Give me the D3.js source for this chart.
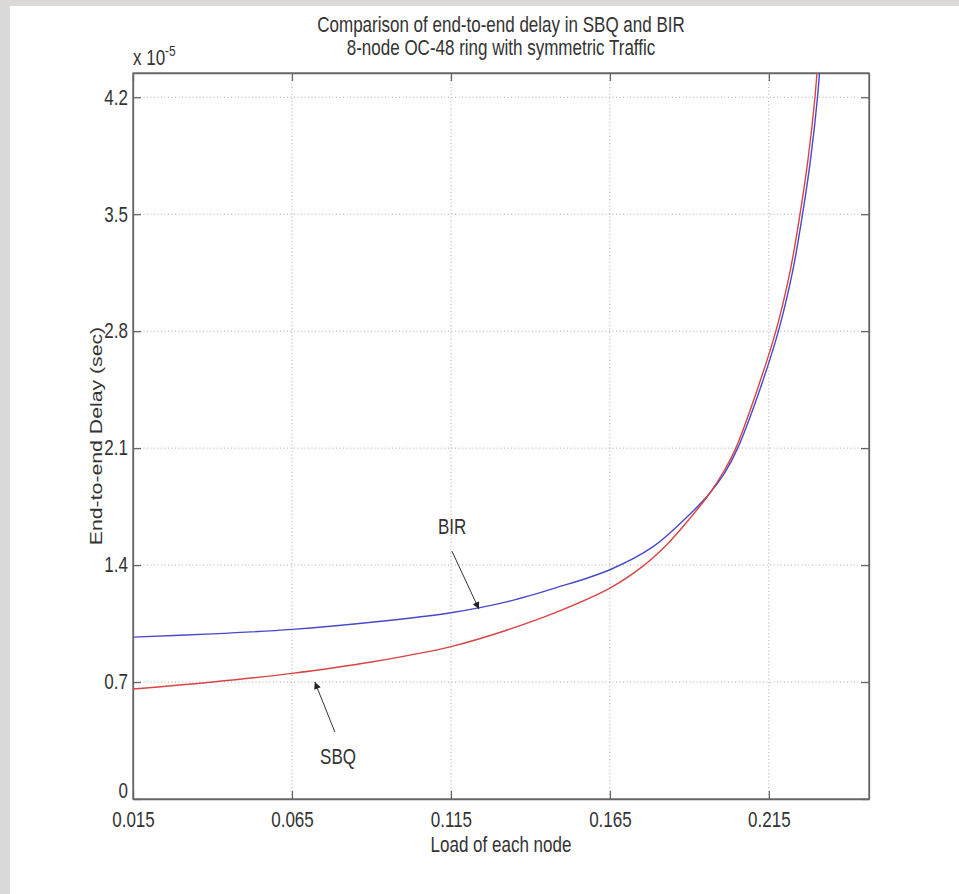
<html>
<head>
<script src="https://d3js.org/d3.v7.min.js"></script>
<style>
body { margin: 0; background: #fff; }
text { font-family: "Liberation Sans", Arial, sans-serif; fill: #333; }
</style>
</head>
<body>
<div id="chart"></div>
<script>
// load of each node (x) and end-to-end delay in units of 1e-5 s (y)
var sbqLoad  = [0.015, 0.04, 0.065, 0.09, 0.115, 0.1325, 0.1482, 0.165, 0.1755, 0.1828, 0.1891, 0.1964, 0.2008, 0.2046, 0.2110, 0.2172, 0.2216, 0.2248, 0.2274, 0.2295, 0.2310];
var sbqDelay = [0.658, 0.700, 0.752, 0.820, 0.912, 1.010, 1.118, 1.262, 1.395, 1.52, 1.655, 1.83, 1.96, 2.10, 2.43, 2.80, 3.15, 3.50, 3.84, 4.20, 4.58];
var birLoad  = [0.015, 0.04, 0.065, 0.09, 0.115, 0.1325, 0.1482, 0.165, 0.1786, 0.1891, 0.1964, 0.2012, 0.2052, 0.2118, 0.2180, 0.2224, 0.2256, 0.2282, 0.2303, 0.2318];
var birDelay = [0.969, 0.988, 1.015, 1.058, 1.115, 1.180, 1.265, 1.372, 1.51, 1.685, 1.83, 1.955, 2.10, 2.43, 2.80, 3.15, 3.50, 3.84, 4.20, 4.58];

var xTicks = [0.015, 0.065, 0.115, 0.165, 0.215];
var yTicks = [0, 0.7, 1.4, 2.1, 2.8, 3.5, 4.2];

// annotation: label position and arrow (from -> to), in data units
var notes = [
    {text: "BIR", lx: 0.1154, ly: 1.628, x1: 0.1153, y1: 1.484, x2: 0.1238, y2: 1.137},
    {text: "SBQ", lx: 0.0795, ly: 0.251, x1: 0.0785, y1: 0.401, x2: 0.0722, y2: 0.700}
];

var W = 959, H = 894;
var mLeft = 133, mRight = 869, mTop = 73, mBottom = 799;
var SY = 1.25; // the original picture is stretched vertically

var x = d3.scaleLinear().domain([0.015, 0.2465]).range([mLeft, mRight]);
var y = d3.scaleLinear().domain([0, 4.345]).range([mBottom, mTop]);

var svg = d3.select("#chart").append("svg")
    .attr("width", W).attr("height", H);

// grey paper border + white sheet
svg.append("rect").attr("width", W).attr("height", H).attr("fill", "#dcdad8");
svg.append("rect").attr("x", 10).attr("y", 6).attr("width", W - 10).attr("height", H - 6).attr("fill", "#fff");

var defs = svg.append("defs");
defs.append("clipPath").attr("id", "clip").append("rect")
    .attr("x", mLeft).attr("y", mTop).attr("width", mRight - mLeft).attr("height", mBottom - mTop);
defs.append("marker").attr("id", "head")
    .attr("viewBox", "0 0 10 10").attr("refX", 10).attr("refY", 5)
    .attr("markerWidth", 11).attr("markerHeight", 7).attr("markerUnits", "userSpaceOnUse")
    .attr("orient", "auto")
    .append("path").attr("d", "M0,0L10,5L0,10z").attr("fill", "#222");

function label(g, px, py, str, anchor, size) {
    return g.append("text")
        .attr("transform", "translate(" + px + "," + py + ") scale(1," + SY + ")")
        .attr("text-anchor", anchor || "middle")
        .style("font-size", (size || 17) + "px")
        .text(str);
}

// grid
var grid = svg.append("g").attr("stroke", "#aaa").attr("stroke-dasharray", "1,2.5").attr("stroke-width", 1);
grid.selectAll(".gx").data(xTicks.slice(1)).enter().append("line")
    .attr("x1", function(d) { return x(d); }).attr("x2", function(d) { return x(d); })
    .attr("y1", mTop).attr("y2", mBottom);
grid.selectAll(".gy").data(yTicks.slice(1)).enter().append("line")
    .attr("y1", function(d) { return y(d); }).attr("y2", function(d) { return y(d); })
    .attr("x1", mLeft).attr("x2", mRight);

// axes, ticks inside like matlab
var fmtX = function(d) { return d3.format(".3f")(d); };
var fmtY = function(d) { return d === 0 ? "0" : d3.format(".1f")(d); };

var gx = svg.append("g").attr("transform", "translate(0," + mBottom + ")")
    .call(d3.axisBottom(x).tickValues(xTicks).tickFormat(fmtX).tickSizeInner(-8).tickSizeOuter(0).tickPadding(10));
var gy = svg.append("g").attr("transform", "translate(" + mLeft + ",0)")
    .call(d3.axisLeft(y).tickValues(yTicks).tickFormat(fmtY).tickSizeInner(-8).tickSizeOuter(0).tickPadding(5));
svg.append("g").attr("transform", "translate(0," + mTop + ")")
    .call(d3.axisTop(x).tickValues(xTicks).tickFormat("").tickSizeInner(-8).tickSizeOuter(0));
svg.append("g").attr("transform", "translate(" + mRight + ",0)")
    .call(d3.axisRight(y).tickValues(yTicks).tickFormat("").tickSizeInner(-8).tickSizeOuter(0));

svg.selectAll(".domain, .tick line").attr("stroke", "#666").attr("stroke-width", 1.3);
gx.selectAll("text").attr("transform", "scale(1," + SY + ")")
    .style("font-size", "17px").attr("fill", "#333");
gy.selectAll("text").attr("transform", "scale(1," + SY + ")")
    .style("font-size", "17px").attr("fill", "#333");
// matlab puts the zero a bit higher on the y axis
gy.selectAll(".tick text").filter(function(d) { return d === 0; }).attr("dy", "-0.05em");

svg.append("rect").attr("x", mLeft).attr("y", mTop)
    .attr("width", mRight - mLeft).attr("height", mBottom - mTop)
    .attr("fill", "none").attr("stroke", "#666").attr("stroke-width", 1.3);

// curves
var line = d3.line()
    .x(function(d) { return x(d[0]); })
    .y(function(d) { return y(d[1]); })
    .curve(d3.curveCatmullRom.alpha(0.5));

var plot = svg.append("g").attr("clip-path", "url(#clip)");
plot.append("path").datum(d3.zip(birLoad, birDelay))
    .attr("d", line).attr("fill", "none").attr("stroke", "#4848cc").attr("stroke-width", 1.4);
plot.append("path").datum(d3.zip(sbqLoad, sbqDelay))
    .attr("d", line).attr("fill", "none").attr("stroke", "#d84444").attr("stroke-width", 1.4);

// annotations
notes.forEach(function(n) {
    svg.append("line")
        .attr("x1", x(n.x1)).attr("y1", y(n.y1))
        .attr("x2", x(n.x2)).attr("y2", y(n.y2))
        .attr("stroke", "#333").attr("stroke-width", 1)
        .attr("marker-end", "url(#head)");
    label(svg, x(n.lx), y(n.ly) + 7, n.text);
});

// titles
label(svg, (mLeft + mRight) / 2, 32, "Comparison of end-to-end delay in SBQ and BIR");
label(svg, (mLeft + mRight) / 2, 55, "8-node OC-48 ring with symmetric Traffic");
label(svg, (mLeft + mRight) / 2, 852, "Load of each node");
svg.append("text")
    .attr("transform", "translate(102," + ((mTop + mBottom) / 2) + ") rotate(-90) scale(" + SY + ",1)")
    .attr("text-anchor", "middle").style("font-size", "17px")
    .text("End-to-end Delay (sec)");

var mult = label(svg, mLeft, 65, "x 10", "start");
mult.append("tspan").attr("dy", "-0.6em").style("font-size", "12px").text("-5");
</script>
</body>
</html>
